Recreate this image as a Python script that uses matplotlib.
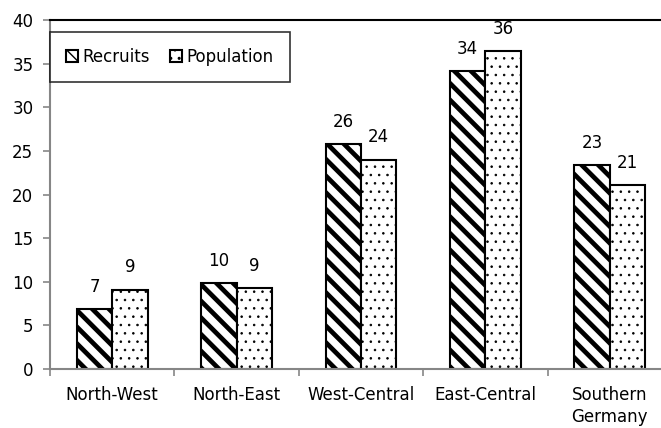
import matplotlib
matplotlib.use("Agg")
import matplotlib.pyplot as plt
import numpy as np

# ─── Data ─────────────────────────────────────────────────────────────────────
regions = ["North-West", "North-East", "West-Central", "East-Central", "Southern\nGermany"]
recruits = [6.9, 9.8, 25.8, 34.1, 23.4]
population = [9.1, 9.3, 24.0, 36.4, 21.1]
y_ticks = [0, 5, 10, 15, 20, 25, 30, 35, 40]

GRAY = "#868686"
plt.rcParams["font.family"] = ["DejaVu Sans"]
plt.rcParams["font.size"] = 12

fig = plt.figure(figsize=(6.61, 4.28), dpi=100)
ax = fig.add_axes([50 / 661, 59 / 428, 622 / 661, 349 / 428])

x = np.arange(len(regions))
w = 0.285

with plt.rc_context({"hatch.linewidth": 3.4}):
    b1 = ax.bar(x - w / 2, recruits, w, facecolor="white", edgecolor="black",
                hatch="\\\\", linewidth=1.5, label="Recruits")
with plt.rc_context({"hatch.linewidth": 0.6}):
    b2 = ax.bar(x + w / 2, population, w, facecolor="white", edgecolor="black",
                hatch="..", linewidth=1.5, label="Population")

for bars, vals in ((b1, recruits), (b2, population)):
    for rect, v in zip(bars, vals):
        ax.annotate(f"{round(v)}", (rect.get_x() + rect.get_width() / 2, v),
                    xytext=(0, 16), textcoords="offset points",
                    ha="center", va="center")

ax.set_xlim(-0.5, len(regions) - 0.5)
ax.set_ylim(0, 40)
ax.set_yticks(y_ticks)
ax.set_xticks(x)
ax.set_xticklabels(regions, linespacing=1.3)
ax.set_xticks(np.arange(len(regions) + 1) - 0.5, minor=True)

ax.tick_params(axis="y", direction="out", length=5, width=1.2, color=GRAY, pad=7)
ax.tick_params(axis="x", which="major", length=0, pad=12)
ax.tick_params(axis="x", which="minor", direction="out", length=5, width=1.2, color=GRAY)

for side in ("left", "bottom"):
    ax.spines[side].set_color(GRAY)
    ax.spines[side].set_linewidth(1.5)
ax.spines["top"].set_color("black")
ax.spines["top"].set_linewidth(1.5)
ax.spines["right"].set_visible(False)

leg = ax.legend(loc="upper left", bbox_to_anchor=(0, 1 - 12 / 349), ncol=2,
                frameon=True, fancybox=False, borderaxespad=0,
                handlelength=0.7, handleheight=0.7, handletextpad=0.3,
                columnspacing=1.2, borderpad=0.95)
leg.get_frame().set_edgecolor("black")
leg.get_frame().set_linewidth(1.2)

fig.savefig("out.png", dpi=100)
